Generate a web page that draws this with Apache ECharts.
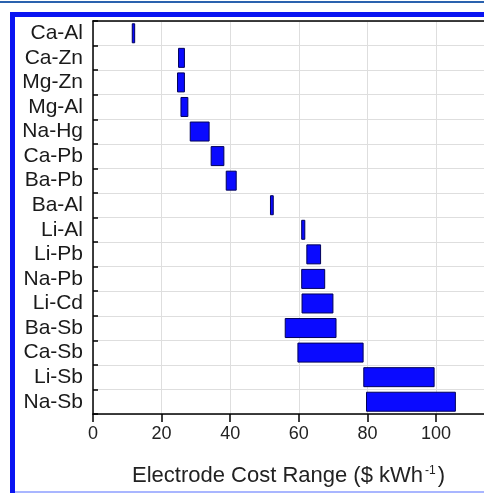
<!DOCTYPE html>
<html>
<head>
<meta charset="utf-8">
<script src="https://cdn.jsdelivr.net/npm/echarts@6/dist/echarts.min.js"></script>
<style>
html,body{margin:0;padding:0;background:#fff;}
#chart{width:484px;height:493px;}
</style>
</head>
<body>
<div id="chart"></div>
<script>
const categories = ['Ca-Al','Ca-Zn','Mg-Zn','Mg-Al','Na-Hg','Ca-Pb','Ba-Pb','Ba-Al','Li-Al','Li-Pb','Na-Pb','Li-Cd','Ba-Sb','Ca-Sb','Li-Sb','Na-Sb'];
const lowCost  = [11.3, 24.8, 24.5, 25.5, 28.2, 34.3, 38.7, 51.6, 60.7, 62.2, 60.7, 60.8, 55.9, 59.6, 78.8, 79.6];
const highCost = [12.3, 26.8, 26.8, 27.8, 34.0, 38.3, 41.9, 52.7, 61.9, 66.5, 67.7, 70.1, 71.0, 78.9, 99.6, 105.8];
const xTicks = [0, 20, 40, 60, 80, 100];

const spanCost = highCost.map((h, i) => +(h - lowCost[i]).toFixed(2));

const chart = echarts.init(document.getElementById('chart'), null, {renderer: 'canvas'});
const font = 'Arial, "Liberation Sans", sans-serif';
chart.setOption({
  backgroundColor: '#fff',
  animation: false,
  textStyle: {fontFamily: font},
  grid: {left: 93, right: 0, top: 21, bottom: 79},
  xAxis: [
    {
      type: 'value',
      min: 0, max: 114, interval: 10,
      axisLine: {show: true, lineStyle: {color: '#000', width: 1.5}},
      axisTick: {show: true, length: 8, customValues: xTicks, lineStyle: {color: '#000', width: 1.5}},
      axisLabel: {fontSize: 18, color: '#222', margin: 11, fontFamily: font, customValues: xTicks},
      splitLine: {show: true, lineStyle: {color: '#dedede', width: 1}},
      name: 'Electrode Cost Range ($ kWh{sup|-1})',
      nameLocation: 'middle',
      nameGap: 51,
      nameTextStyle: {
        fontSize: 22, color: '#222', fontFamily: font,
        rich: {sup: {fontSize: 12, color: '#222', verticalAlign: 'top', padding: [0, 2, 0, 2], fontFamily: font}}
      }
    },
    {
      type: 'value', position: 'top',
      min: 0, max: 114, interval: 10,
      axisLine: {show: true, onZero: false, lineStyle: {color: '#000', width: 1.5}},
      axisTick: {show: false},
      axisLabel: {show: false},
      splitLine: {show: false}
    }
  ],
  yAxis: {
    type: 'category',
    data: categories,
    inverse: true,
    axisLine: {show: true, lineStyle: {color: '#000', width: 1.5}},
    axisTick: {show: true, inside: true, interval: 0, length: 5, lineStyle: {color: '#000', width: 1.5}},
    axisLabel: {fontSize: 21, color: '#1a1a1a', margin: 10, interval: 0, fontFamily: font},
    splitLine: {show: true, interval: 0, lineStyle: {color: '#dedede', width: 1}}
  },
  series: [
    {
      type: 'bar', stack: 'cost', data: lowCost, barWidth: 20, silent: true,
      itemStyle: {color: 'rgba(0,0,0,0)'}
    },
    {
      type: 'bar', stack: 'cost', data: spanCost, barWidth: 20,
      itemStyle: {color: '#0a0aff', borderColor: '#00005a', borderWidth: 1}
    }
  ],
  graphic: [
    {type: 'rect', shape: {x: 0, y: 1, width: 484, height: 2}, style: {fill: '#2a62ae'}, z: 100},
    {type: 'rect', shape: {x: 10, y: 12, width: 474, height: 5}, style: {fill: '#0a14f2'}, z: 100},
    {type: 'rect', shape: {x: 10, y: 12, width: 5, height: 481}, style: {fill: '#0a14f2'}, z: 100},
    {type: 'rect', shape: {x: 15, y: 491, width: 469, height: 2}, style: {fill: '#a9b6ff'}, z: 100}
  ]
});
</script>
</body>
</html>
